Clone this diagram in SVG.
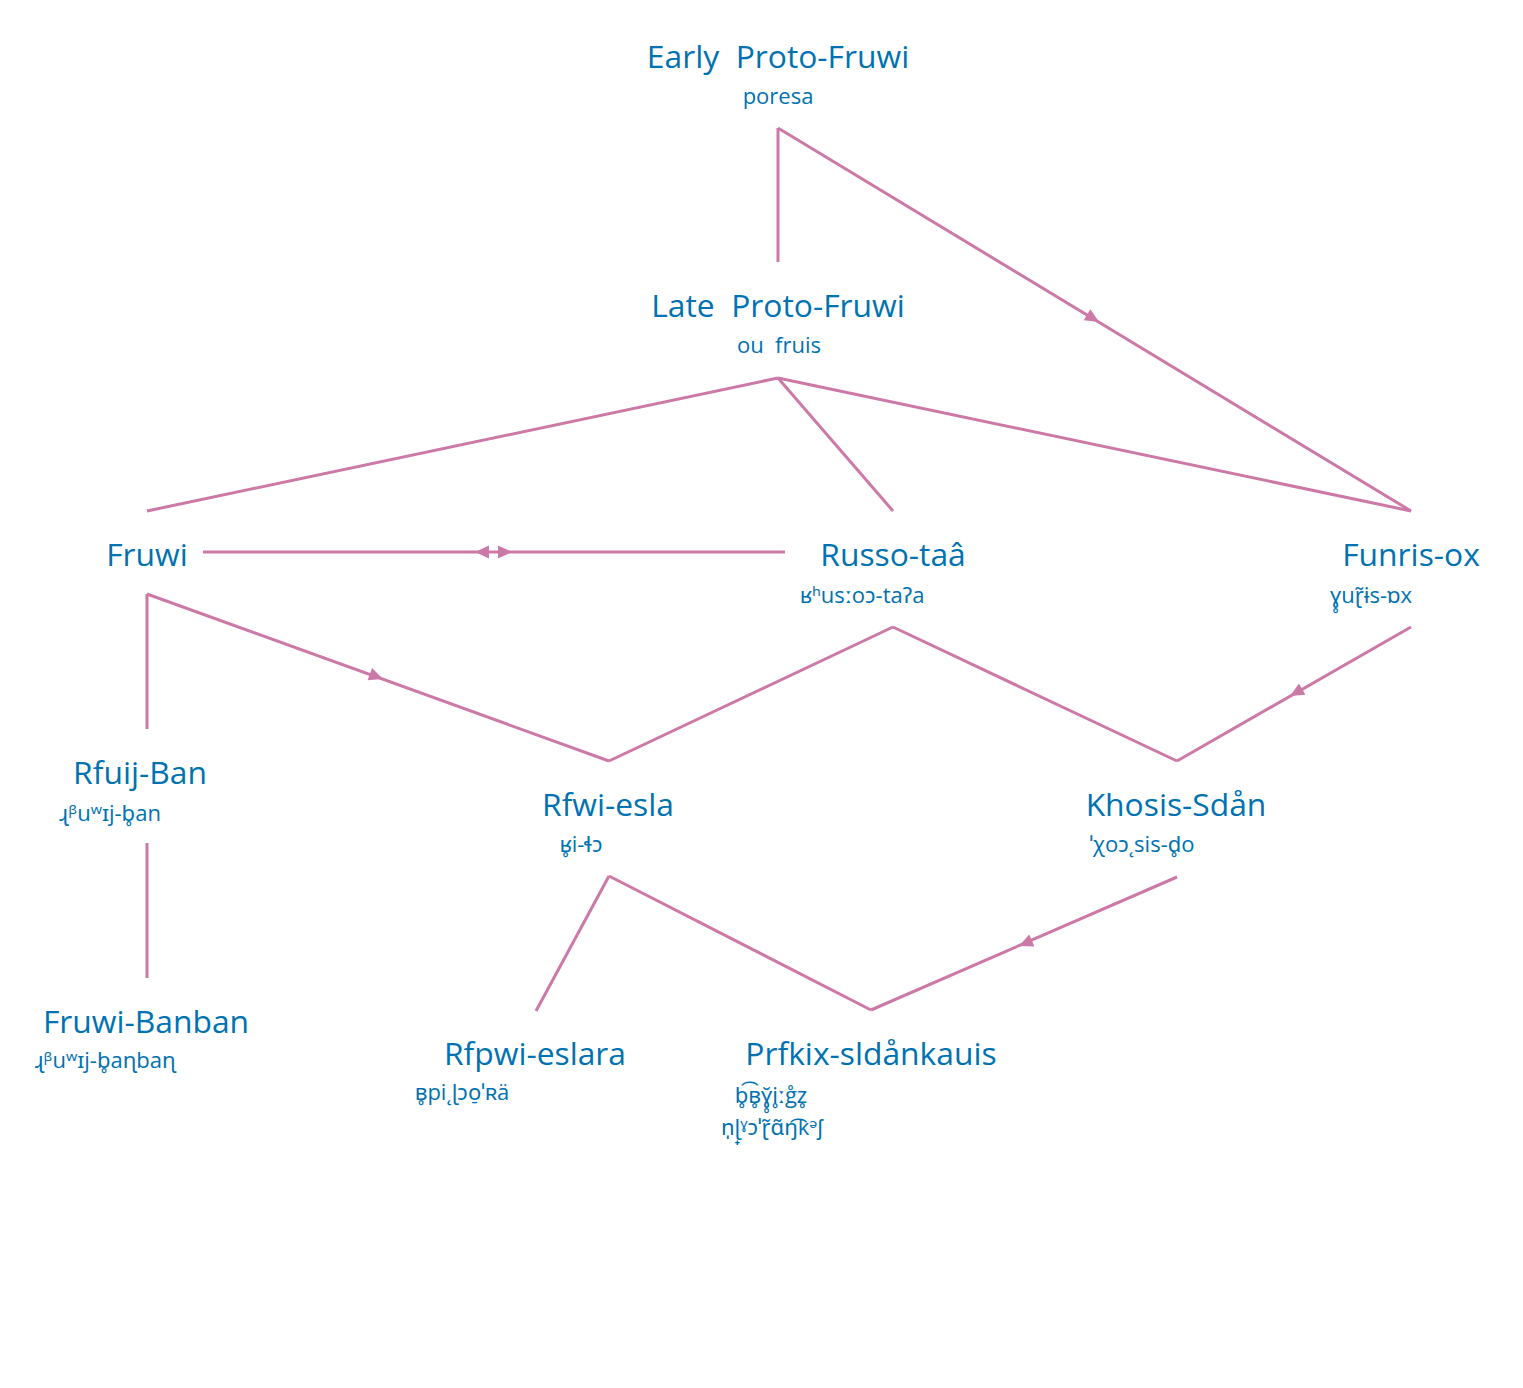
<svg xmlns="http://www.w3.org/2000/svg" width="1523" height="1388" viewBox="0 0 1523 1388">
<style>
.t{font-family:"Open Sans","Noto Sans",sans-serif;font-size:31.8px;fill:#0072b2;text-anchor:middle;white-space:pre}
.s{font-family:"Open Sans","Noto Sans",sans-serif;font-size:22px;fill:#0072b2;text-anchor:middle;white-space:pre}
.e{fill:none;stroke:#cc79a7;stroke-width:3}
.a{fill:#cc79a7}
</style>
<defs><path id="ah" d="M0,0 L-14,-6.5 L-14,6.5 Z"/></defs>
<rect width="1523" height="1388" fill="#fff"/>
<g id="connectors">
<path class="e" d="M778,128 L778,262"/>
<path class="e" d="M778,128 L1411,511"/>
<path class="e" d="M778,378 L147,511"/>
<path class="e" d="M778,378 L893,511"/>
<path class="e" d="M778,378 L1411,511"/>
<path class="e" d="M203,552 L785,552"/>
<path class="e" d="M147,594 L147,729"/>
<path class="e" d="M147,594 L609,761"/>
<path class="e" d="M893,627 L609,761"/>
<path class="e" d="M893,627 L1177,761"/>
<path class="e" d="M1411,627 L1177,761"/>
<path class="e" d="M147,843 L147,978"/>
<path class="e" d="M609,876 L536,1011"/>
<path class="e" d="M609,876 L871,1010"/>
<path class="e" d="M1177,877 L871,1010"/>
<use href="#ah" class="a" transform="translate(1099,322) rotate(31.2)"/>
<use href="#ah" class="a" transform="translate(383,679) rotate(19.9)"/>
<use href="#ah" class="a" transform="translate(1290,696) rotate(150.2)"/>
<use href="#ah" class="a" transform="translate(1019,946) rotate(156.5)"/>
<use href="#ah" class="a" transform="translate(512,552)"/>
<use href="#ah" class="a" transform="translate(475,552) rotate(180)"/>
</g>
<g id="early"><text class="t" x="778" y="68">Early  Proto-Fruwi</text><text class="s" x="778" y="104">poresa</text></g>
<g id="late"><text class="t" x="778" y="317">Late  Proto-Fruwi</text><text class="s" x="779" y="353">ou  fruis</text></g>
<g id="fruwi"><text class="t" x="147" y="566">Fruwi</text></g>
<g id="russo"><text class="t" x="893" y="566">Russo-taâ</text><text class="s" x="862" y="603">ʁʰusːoɔ-taʔa</text></g>
<g id="funris"><text class="t" x="1411" y="566">Funris-ox</text><text class="s" x="1371" y="603">ɣ̥uɽ̃ɨs-ɒx</text></g>
<g id="rfuij"><text class="t" x="140" y="784">Rfuij-Ban</text><text class="s" x="110" y="821">ɻᵝuʷɪj-b̥an</text></g>
<g id="rfwi"><text class="t" x="608" y="816">Rfwi-esla</text><text class="s" x="581" y="852">ʁ̥i-ɬɔ</text></g>
<g id="khosis"><text class="t" x="1176" y="816">Khosis-Sdån</text><text class="s" x="1142" y="852">ˈχoɔ˛sis-d̥o</text></g>
<g id="fruwibanban"><text class="t" x="146" y="1033">Fruwi-Banban</text><text class="s" x="105" y="1068">ɻᵝuʷɪj-b̥aɳbaɳ</text></g>
<g id="rfpwi"><text class="t" x="535" y="1065">Rfpwi-eslara</text><text class="s" x="462" y="1100">ʙ̥pi˛ɭɔo̠ˈʀä</text></g>
<g id="prfkix"><text class="t" x="871" y="1065">Prfkix-sldånkauis</text><text class="s" x="771" y="1103">b̥͡ʙ̥ɣ̥̆i̥ːg̊z̥</text><text class="s" x="772" y="1135">n̩ɭ̟ˠɔˈɽ̃ɑ̃ŋ͡kᵊʃ</text></g>
</svg>
